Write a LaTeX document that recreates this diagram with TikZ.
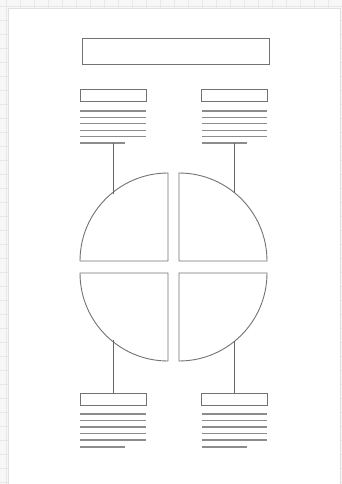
\documentclass[tikz,border=0pt]{standalone}
\usepackage{tikz}

\begin{document}
\begin{tikzpicture}[x=1pt,y=-1pt,
  box/.style={draw=black!55,line width=1pt,inner sep=0pt},
  txtline/.style={draw=black!45,line width=1.3pt},
  quad/.style={draw=black!55,line width=0.9pt},
  link/.style={draw=black!60,line width=0.9pt}]

\useasboundingbox (0,0) rectangle (342,484);

% sheet behind the page
\fill[black!3] (0,0) rectangle (342,484);
\foreach \g in {6,20,...,342} \draw[black!9,line width=0.6pt] (\g,0) -- (\g,484);
\foreach \g in {6,20,...,484} \draw[black!9,line width=0.6pt] (0,\g) -- (342,\g);
\draw[black!12,fill=white] (8,8) rectangle (340,490);

% title
\node[box,minimum width=187pt,minimum height=26pt] (title) at (175.5,52) {};

% small headings
\node[box,minimum width=66pt,minimum height=12pt] (tl) at (113,96) {};
\node[box,minimum width=66pt,minimum height=12pt] (tr) at (234.5,96) {};
\node[box,minimum width=66pt,minimum height=12pt] (bl) at (113,399) {};
\node[box,minimum width=66pt,minimum height=12pt] (br) at (234.5,399) {};

% text lines
\foreach \k in {0,...,4} {
  \draw[txtline] (80,{111+6.4*\k}) -- (146,{111+6.4*\k});
  \draw[txtline] (202,{111+6.4*\k}) -- (267,{111+6.4*\k});
  \draw[txtline] (80,{414+6.5*\k}) -- (146,{414+6.5*\k});
  \draw[txtline] (202,{414+6.5*\k}) -- (267,{414+6.5*\k});
}
\draw[txtline] (80,143) -- (125,143);
\draw[txtline] (202,143) -- (247,143);
\draw[txtline] (80,447) -- (125,447);
\draw[txtline] (202,447) -- (247,447);

% quarters
\draw[quad] (168,261) -- (80,261) arc (180:270:88) -- cycle;
\draw[quad] (179,261) -- (179,173) arc (270:360:88) -- cycle;
\draw[quad] (168,273) -- (80,273) arc (180:90:88) -- cycle;
\draw[quad] (179,273) -- (267,273) arc (0:90:88) -- cycle;

% connectors
\coordinate (tlend) at (113,143);
\coordinate (trend) at (234.5,143);
\coordinate (tlq) at (113,193.6);
\coordinate (trq) at (234.5,192.8);
\coordinate (blq) at (113,340.4);
\coordinate (brq) at (234.5,341.2);

\draw[link] (tlend) -- (tlq);
\draw[link] (trend) -- (trq);
\draw[link] (blq) -- (bl.north);
\draw[link] (brq) -- (br.north);
\end{tikzpicture}
\end{document}
